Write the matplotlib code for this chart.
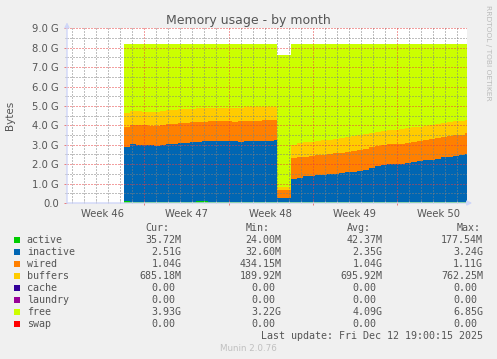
import numpy as np
import matplotlib
matplotlib.use("Agg")
import matplotlib.pyplot as plt
from matplotlib.ticker import MultipleLocator, FixedLocator, FixedFormatter
from matplotlib.patches import Rectangle
import matplotlib.transforms as mtransforms

# ---------------- data (values in GB, time in days from start of week 47) ----------------
t_pre = -1.7 + 0.5 * np.arange(26)          # before the reboot
t_dip = np.array([11.07])                    # reboot dip
t_post = 12.17 + 0.5 * np.arange(30)         # after the reboot
t_end = 26.8
times = np.concatenate([t_pre, t_dip, t_post])

active = ([0.08] + [0.04] * 11 + [0.10, 0.10] + [0.04] * 12
          + [0.04]
          + [0.04] * 29 + [0.036])
inactive = [2.82, 2.98, 2.96, 2.94, 2.93, 2.92, 2.94, 2.98, 3.01, 3.06, 3.06, 3.09, 3.05,
            3.08, 3.16, 3.14, 3.16, 3.15, 3.14, 3.12, 3.15, 3.13, 3.16, 3.15, 3.17, 3.21,
            0.20,
            1.21, 1.27, 1.33, 1.35, 1.38, 1.41, 1.44, 1.47, 1.51, 1.54, 1.58, 1.62, 1.68,
            1.75, 1.85, 1.91, 1.95, 1.96, 1.99, 2.03, 2.06, 2.10, 2.15, 2.20, 2.25, 2.31,
            2.35, 2.38, 2.42, 2.51]
wired = [1.03, 1.00, 1.03, 1.02, 1.00, 1.02, 1.04, 1.03, 1.02, 1.00, 1.03, 1.02, 1.02,
         1.01, 1.02, 1.05, 1.01, 1.01, 1.00, 1.04, 1.03, 1.06, 1.04, 1.07, 1.06, 1.05,
         0.43,
         1.08, 1.05, 1.02, 1.03, 1.03, 1.03, 1.04, 1.05, 1.05, 1.06, 1.07, 1.08, 1.08,
         1.07, 1.04, 1.03, 1.03, 1.03, 1.03, 1.04, 1.05, 1.05, 1.06, 1.07, 1.08, 1.07,
         1.08, 1.07, 1.06, 1.04]
buffers = [0.69, 0.71, 0.71, 0.71, 0.72, 0.72, 0.72, 0.72, 0.72, 0.72, 0.71, 0.71, 0.70,
           0.70, 0.68, 0.68, 0.69, 0.70, 0.72, 0.71, 0.70, 0.70, 0.70, 0.69, 0.68, 0.66,
           0.17,
           0.66, 0.72, 0.74, 0.74, 0.74, 0.74, 0.74, 0.74, 0.74, 0.74, 0.74, 0.74, 0.74,
           0.74, 0.73, 0.73, 0.74, 0.74, 0.74, 0.74, 0.74, 0.74, 0.74, 0.72, 0.70, 0.70,
           0.69, 0.71, 0.71, 0.67]
cache = [0.0] * 57
laundry = [0.0] * 57
free = [3.56, 3.45, 3.44, 3.47, 3.49, 3.48, 3.44, 3.41, 3.39, 3.36, 3.34, 3.32, 3.31,
        3.29, 3.28, 3.27, 3.28, 3.28, 3.28, 3.27, 3.26, 3.25, 3.24, 3.23, 3.23, 3.22,
        6.78,
        5.19, 5.10, 5.05, 5.02, 4.99, 4.96, 4.92, 4.88, 4.84, 4.80, 4.75, 4.70, 4.64,
        4.58, 4.52, 4.47, 4.42, 4.41, 4.38, 4.33, 4.29, 4.25, 4.19, 4.15, 4.11, 4.06,
        4.02, 3.98, 3.95, 3.93]
swap = [0.0] * 57

series_names = ["active", "inactive", "wired", "buffers", "cache", "laundry", "free", "swap"]
series_values = [active, inactive, wired, buffers, cache, laundry, free, swap]
series_colors = ["#00CC00", "#0066B3", "#FF8000", "#FFCC00", "#330099", "#990099", "#CCFF00", "#FF0000"]

cur_vals = ["35.72M", "2.51G", "1.04G", "685.18M", "0.00", "0.00", "3.93G", "0.00"]
min_vals = ["24.00M", "32.60M", "434.15M", "189.92M", "0.00", "0.00", "3.22G", "0.00"]
avg_vals = ["42.37M", "2.35G", "1.04G", "695.92M", "0.00", "0.00", "4.09G", "0.00"]
max_vals = ["177.54M", "3.24G", "1.11G", "762.25M", "0.00", "0.00", "6.85G", "0.00"]

week_labels = ["Week 46", "Week 47", "Week 48", "Week 49", "Week 50"]
week_label_pos = [-3.5, 3.5, 10.5, 17.5, 24.5]
ytick_vals = [0, 1, 2, 3, 4, 5, 6, 7, 8, 9]
ytick_labels = ["0.0", "1.0 G", "2.0 G", "3.0 G", "4.0 G", "5.0 G", "6.0 G", "7.0 G", "8.0 G", "9.0 G"]

# ---------------- figure ----------------
W, H = 497, 359
fig = plt.figure(figsize=(W / 100, H / 100), dpi=100, facecolor="#F0F0F0")


def fx(px):
    return px / W


def fy(py):
    return 1 - py / H


TXT = "#555555"
ax = fig.add_axes([fx(67), fy(203), 400 / W, 174.7 / H])
ax.set_facecolor("white")
ax.set_xlim(-6.43, 26.83)
ax.set_ylim(0, 9)

x = np.append(times, t_end)
base = np.zeros(len(x))
for vals, col in zip(series_values, series_colors):
    v = np.append(np.array(vals, dtype=float), vals[-1])
    ax.fill_between(x, base, base + v, step="post", color=col, lw=0, antialiased=False, zorder=1)
    base = base + v

for s in ax.spines.values():
    s.set_visible(False)

ax.set_axisbelow(False)
ax.xaxis.set_major_locator(MultipleLocator(7))
ax.xaxis.set_minor_locator(MultipleLocator(1))
ax.yaxis.set_major_locator(FixedLocator(ytick_vals))
ax.yaxis.set_major_formatter(FixedFormatter(ytick_labels))
ax.yaxis.set_minor_locator(MultipleLocator(0.5))
ax.grid(which="minor", color=(0.5, 0.5, 0.5, 0.4), ls=(0, (1, 2)), lw=0.72)
ax.grid(which="major", color=(0.9, 0.25, 0.25, 0.5), ls=(0, (1, 2)), lw=0.72)
ax.tick_params(axis="x", which="both", labelbottom=False)
ax.tick_params(axis="x", which="major", length=2.5, width=0.72, color="#E88080", direction="inout")
ax.tick_params(axis="x", which="minor", length=1.5, width=0.72, color="#B0B0B0", direction="in")
ax.tick_params(axis="y", which="major", length=2, width=0.72, color="#E88080", direction="out",
               labelsize=7.2, labelcolor=TXT, pad=4)
ax.tick_params(axis="y", which="minor", length=1.5, width=0.72, color="#B0B0B0", direction="out")

# axis lines with arrows
AX = "#CFD6F8"
ax.annotate("", xy=(1.013, 0), xytext=(0, 0), xycoords="axes fraction",
            arrowprops=dict(arrowstyle="-|>", color=AX, lw=1, mutation_scale=7, shrinkA=0, shrinkB=0),
            annotation_clip=False, zorder=5)
ax.annotate("", xy=(0, 1.034), xytext=(0, 0), xycoords="axes fraction",
            arrowprops=dict(arrowstyle="-|>", color=AX, lw=1, mutation_scale=7, shrinkA=0, shrinkB=0),
            annotation_clip=False, zorder=5)

# week labels
trans = mtransforms.blended_transform_factory(ax.transData, fig.transFigure)
for lab, pos in zip(week_labels, week_label_pos):
    ax.text(pos, fy(216.7), lab, transform=trans, ha="center", va="baseline",
            fontsize=7.2, color=TXT, clip_on=False)

# title, axis label, side text
fig.text(fx(248), fy(24), "Memory usage - by month", ha="center", va="baseline",
         fontsize=9, color=TXT)
fig.text(fx(10.5), fy(115), "Bytes", ha="center", va="center", rotation=90,
         fontsize=7.5, color=TXT)
fig.text(fx(488), fy(5), "RRDTOOL / TOBI OETIKER", ha="center", va="top", rotation=270,
         fontsize=5.4, color="#BBBBBB")

# legend
MONO = "DejaVu Sans Mono"
FS = 7.2
CW = 6.0
headers = [("Cur:", 145.3), ("Min:", 246), ("Avg:", 347.3), ("Max:", 456.7)]
for h, hx in headers:
    fig.text(fx(hx), fy(231), h, ha="left", va="baseline", fontsize=FS, family=MONO, color=TXT)

col_ends = [181.7, 281.7, 382.7, 483]
for i, (name, col) in enumerate(zip(series_names, series_colors)):
    yb = 243.3 + 12 * i
    fig.add_artist(Rectangle((fx(14), fy(yb - 0.5)), 6 / W, 6 / H, transform=fig.transFigure,
                             facecolor=col, edgecolor="none"))
    fig.text(fx(26.7), fy(yb), name, ha="left", va="baseline", fontsize=FS, family=MONO, color=TXT)
    for vals, ce in zip([cur_vals, min_vals, avg_vals, max_vals], col_ends):
        s = vals[i]
        xe = ce if s[-1].isalpha() else ce - CW
        fig.text(fx(xe), fy(yb), s, ha="right", va="baseline", fontsize=FS, family=MONO, color=TXT)

fig.text(fx(483), fy(339), "Last update: Fri Dec 12 19:00:15 2025", ha="right", va="baseline",
         fontsize=FS, family=MONO, color=TXT)
fig.text(fx(248), fy(351), "Munin 2.0.76", ha="center", va="baseline", fontsize=6.3,
         color="#C0C0C0")

fig.savefig("out.png", dpi=100, facecolor=fig.get_facecolor())
